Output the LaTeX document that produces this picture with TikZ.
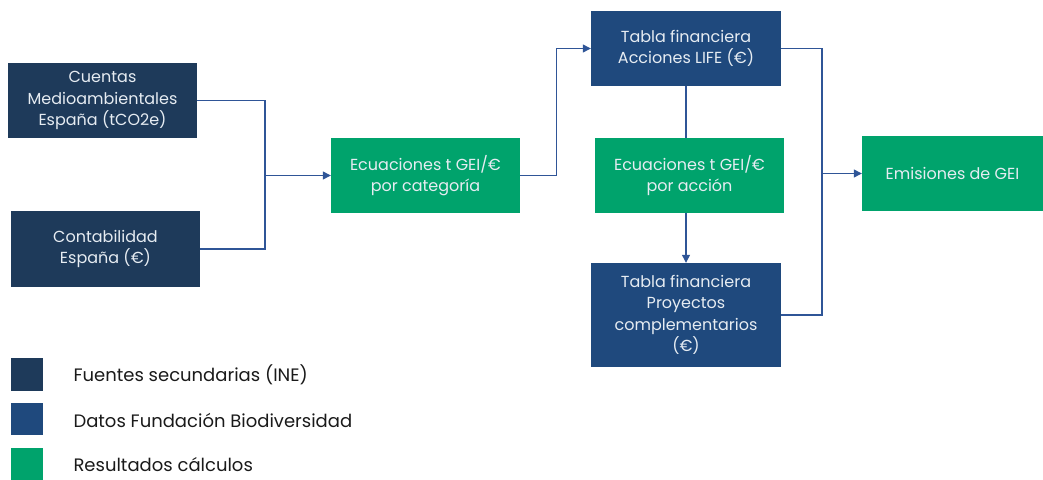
\documentclass[tikz,border=0pt]{standalone}
\usepackage{fontspec}
\setmainfont{Poppins}
\usetikzlibrary{arrows.meta}
\definecolor{navy}{HTML}{1E3A5A}
\definecolor{fblue}{HTML}{1F497D}
\definecolor{fgreen}{HTML}{00A36C}
\definecolor{lnblue}{HTML}{2F5597}
\definecolor{boxtxt}{HTML}{E6ECF2}
\definecolor{legtxt}{HTML}{1A1A1A}
\begin{document}
\begin{tikzpicture}[x=1pt,y=-1pt,
  box/.style={rectangle,inner sep=2pt,align=center,text=boxtxt,
    font=\fontsize{16}{21.5}\selectfont},
  ine/.style={box,fill=navy},
  fb/.style={box,fill=fblue},
  res/.style={box,fill=fgreen},
  conn/.style={draw=lnblue,line width=1.2pt},
  arr/.style={conn,-{Triangle[length=8pt,width=8pt]}},
  leg/.style={anchor=west,text=legtxt,font=\fontsize{18}{22}\selectfont}]
\useasboundingbox (0,0) rectangle (1043,479);
\node[ine,minimum width=189pt,minimum height=75pt] (cuentas) at (102.5,100.5) {Cuentas\\Medioambientales\\España (tCO2e)};
\node[ine,minimum width=189pt,minimum height=76pt] (conta) at (105.5,249) {Contabilidad\\España (€)};
\node[res,minimum width=189pt,minimum height=75pt] (ecat) at (425.5,175.5) {Ecuaciones t GEI/€\\por categoría};
\node[fb,minimum width=190pt,minimum height=75pt] (life) at (686,48.5) {Tabla financiera\\Acciones LIFE (€)};
\node[res,minimum width=189pt,minimum height=75pt] (eacc) at (689.5,175.5) {Ecuaciones t GEI/€\\por acción};
\node[fb,minimum width=190pt,minimum height=104pt] (proy) at (686,315) {Tabla financiera\\Proyectos\\complementarios\\(€)};
\node[res,minimum width=181pt,minimum height=75pt] (emis) at (952.5,173.5) {Emisiones de GEI};
\coordinate (j1) at (265,175.5);
\coordinate (j2) at (822,173.5);
\draw[conn] (cuentas.east) -| (j1);
\draw[conn] (conta.east) -| (j1);
\draw[arr] (j1) -- (ecat.west);
\draw[arr] (ecat.east) -- ++(36,0) |- (life.west);
\draw[conn] (life.south) -- (life.south |- eacc.north);
\draw[arr] (eacc.south -| life.south) -- (proy.north);
\draw[conn] (life.east) -| (j2);
\draw[conn] (proy.east) -| (j2);
\draw[arr] (j2) -- (emis.west);
% legend
\node[fill=navy,minimum width=32pt,minimum height=33pt,inner sep=0pt] (l1) at (27,374.5) {};
\node[fill=fblue,minimum width=32pt,minimum height=32pt,inner sep=0pt] (l2) at (27,419) {};
\node[fill=fgreen,minimum width=32pt,minimum height=32pt,inner sep=0pt] (l3) at (27,464) {};
\node[leg] (t1) at (70,375) {Fuentes secundarias (INE)};
\node[leg] (t2) at (70,420) {Datos Fundación Biodiversidad};
\node[leg] (t3) at (70,465) {Resultados cálculos};
\end{tikzpicture}
\end{document}
